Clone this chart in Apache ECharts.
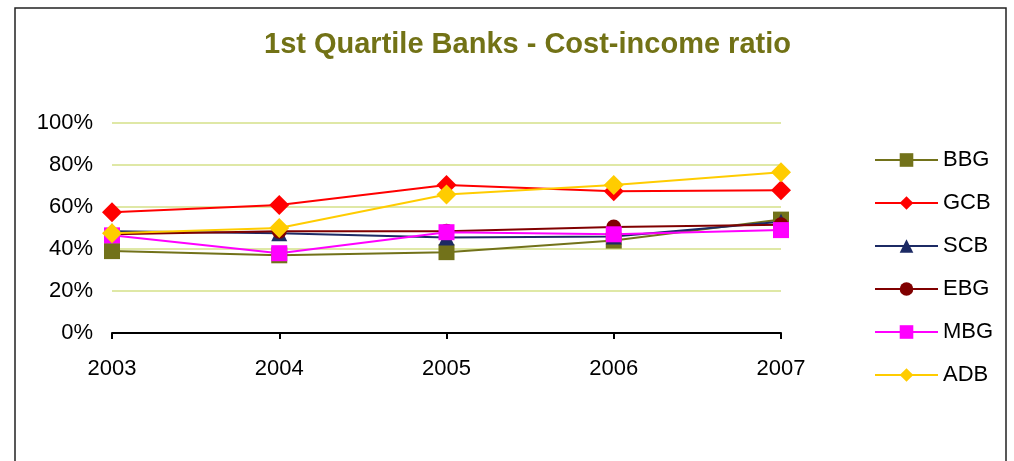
<!DOCTYPE html>
<html>
<head>
<meta charset="utf-8">
<script src="https://cdn.jsdelivr.net/npm/echarts@6/dist/echarts.min.js"></script>
<style>
  html, body { margin: 0; padding: 0; background: #fff; }
  #chart { width: 1014px; height: 461px; }
</style>
</head>
<body>
<div id="chart"></div>
<script>
// Cost-income ratio (%) of the first-quartile banks, 2003-2007
const years = ['2003', '2004', '2005', '2006', '2007'];
const bbg = [39, 37, 38.5, 44, 54];
const gcb = [57.5, 61, 70.5, 67.5, 68];
const scb = [48.5, 47.5, 45.5, 46, 53];
const ebg = [47, 48.5, 48.5, 50.5, 51.5];
const mbg = [46.5, 38, 48, 47, 49];
const adb = [47.5, 50, 66, 70.5, 76.5];

const FONT = '"Liberation Sans", Arial, sans-serif';

function line(name, data, color, symbol, size) {
  return {
    name: name,
    type: 'line',
    data: data,
    symbol: symbol,
    symbolSize: size,
    showSymbol: true,
    lineStyle: { color: color, width: 2 },
    itemStyle: { color: color },
    emphasis: { disabled: true },
    animation: false
  };
}

const chart = echarts.init(document.getElementById('chart'), null, { renderer: 'canvas' });
chart.setOption({
  backgroundColor: '#ffffff',
  title: {
    text: '1st Quartile Banks - Cost-income ratio',
    left: 264,
    top: 30,
    padding: 0,
    textStyle: { fontFamily: FONT, fontSize: 29, fontWeight: 'bold', color: '#727216' }
  },
  graphic: [{
    type: 'rect',
    shape: { x: 15, y: 8, width: 991, height: 470 },
    style: { fill: 'none', stroke: '#222', lineWidth: 1.5 },
    silent: true
  }],
  legend: {
    orient: 'vertical',
    left: 869,
    top: 144,
    padding: 5,
    itemWidth: 63,
    itemHeight: 17,
    itemGap: 21,
    textStyle: { fontFamily: FONT, fontSize: 22, color: '#000', lineHeight: 22 },
    data: ['BBG', 'GCB', 'SCB', 'EBG', 'MBG', 'ADB']
  },
  grid: { left: 112, right: 233, top: 123, bottom: 128, containLabel: false },
  xAxis: {
    type: 'category',
    data: years,
    boundaryGap: false,
    axisLine: { lineStyle: { color: '#000', width: 2 } },
    axisTick: { show: true, inside: false, length: 6, lineStyle: { color: '#000', width: 2 } },
    axisLabel: { fontFamily: FONT, fontSize: 22, color: '#000', margin: 25 },
    splitLine: { show: false }
  },
  yAxis: {
    type: 'value',
    min: 0,
    max: 100,
    interval: 20,
    axisLine: { show: false },
    axisTick: { show: false },
    axisLabel: { fontFamily: FONT, fontSize: 22, color: '#000', margin: 19, formatter: '{value}%' },
    splitLine: { lineStyle: { color: '#dfe8a6', width: 2 } }
  },
  series: [
    line('BBG', bbg, '#72721a', 'rect', 16),
    line('GCB', gcb, '#ff0000', 'diamond', 20),
    line('SCB', scb, '#1c2a64', 'triangle', 16),
    line('EBG', ebg, '#800000', 'circle', 15),
    line('MBG', mbg, '#ff00ff', 'rect', 16),
    line('ADB', adb, '#ffcc00', 'diamond', 20)
  ]
});
</script>
</body>
</html>
